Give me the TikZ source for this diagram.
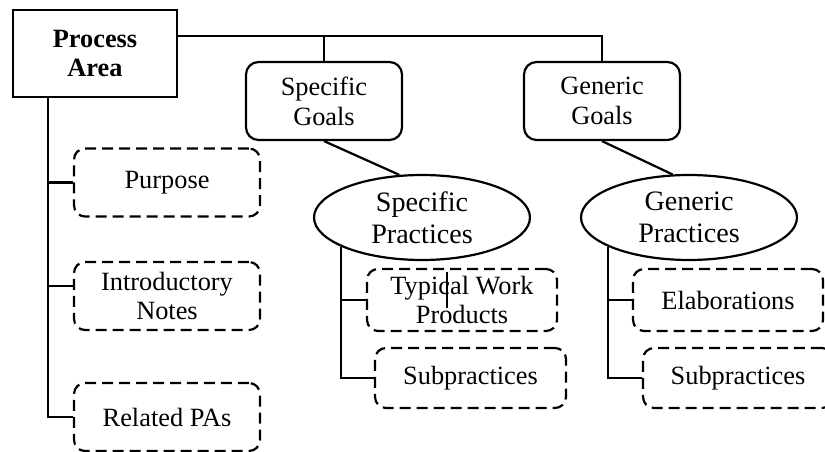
\documentclass[tikz,border=0pt]{standalone}
\usepackage{fontspec}
\setmainfont{Liberation Serif}
\usetikzlibrary{shapes.geometric}
\usetikzlibrary{positioning}
\begin{document}
\begin{tikzpicture}[x=0.02cm, y=-0.02cm, line width=1.25pt, every node/.style={font=\fontsize{15}{17}\selectfont, align=center}]
				\tikzstyle{areanode}=[draw=black, minimum width=3.28cm, minimum height=1.74cm, font=\fontsize{15}{17}\selectfont\bfseries]
				\tikzstyle{goalnode}=[draw=black, rounded corners=0.25cm, minimum width=3.12cm, minimum height=1.56cm]
				\tikzstyle{practicenode}=[draw=black, ellipse, inner sep=0pt, minimum width=4.32cm, minimum height=1.7cm, font=\fontsize{16}{18}\selectfont]
				\tikzstyle{infonode}=[draw=black, dash pattern=on 0.22cm off 0.12cm, rounded corners=0.22cm, minimum width=3.72cm, minimum height=1.36cm]
				
				\useasboundingbox (0,0) rectangle (825,452);
				
				\node (pa) at (95,53.5) [areanode] {Process\\Area};
				\node (sg) at (324,101) [goalnode] {Specific\\Goals};
				\node (gg) at (602,101) [goalnode] {Generic\\Goals};
				\node (sp) at (422,217.5) [practicenode] {Specific\\Practices};
				\node (gp) at (689,217.5) [practicenode] {Generic\\Practices};
				
				\node (pu) at (167,182.5) [infonode] {Purpose};
				\node (in) at (167,296) [infonode] {Introductory\\Notes};
				\node (rp) at (167,417) [infonode] {Related PAs};
				\node (tw) at (462,300) [infonode, minimum width=3.8cm, minimum height=1.24cm] {Typical Work\\Products};
				\node (s1) at (470.5,378) [infonode, minimum width=3.82cm, minimum height=1.2cm] {Subpractices};
				\node (el) at (728,300) [infonode, minimum width=3.8cm, minimum height=1.24cm] {Elaborations};
				\node (s2) at (738,378) [infonode, minimum width=3.8cm, minimum height=1.2cm] {Subpractices};
				
				\coordinate (top) at (602,36);
				\coordinate (lt) at (48,0);
				\draw (pa.east |- top) -- (top) -- (gg.north);
				\draw (sg.north) -- (sg.north |- top);
				\draw (sg.south) -- (sp.118);
				\draw (gg.south) -- (gp.111);
				
				\draw (pa.south -| lt) |- (pu.west);
				\draw (pa.south -| lt) |- (in.174);
				\draw (pa.south -| lt) |- (rp.west);
				
				\draw (sp.200) |- (tw.west);
				\draw (sp.200) |- (s1.west);
				\draw (gp.200) |- (el.west);
				\draw (gp.200) |- (s2.west);
				
				\draw [line width=0.6pt] (447,272) -- (447,308);
				\end{tikzpicture}
\end{document}
